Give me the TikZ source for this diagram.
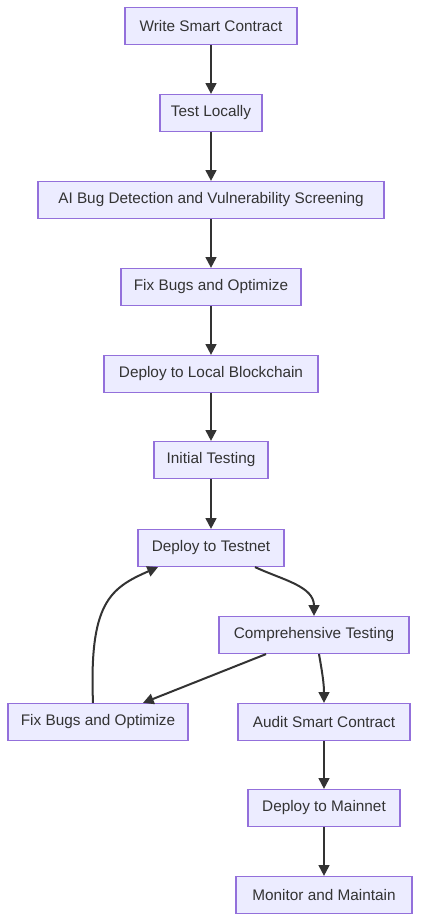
\documentclass[tikz,border=0pt]{standalone}
\usepackage{fontspec}
\setmainfont{Liberation Sans}
\usetikzlibrary{arrows.meta}

\definecolor{boxfill}{HTML}{ECECFF}
\definecolor{boxline}{HTML}{9370DB}
\definecolor{ink}{HTML}{333333}

\tikzset{
  box/.style={draw=boxline,fill=boxfill,line width=0.9pt,inner sep=0pt,
    minimum height=27.75pt,text=ink,font=\fontsize{11.5}{13}\selectfont},
  flow/.style={draw=ink,line width=1.5pt,-{Triangle[length=8pt,width=8pt]}}
}

\begin{document}
\begin{tikzpicture}[x=0.75pt,y=-0.75pt]

%fix page size
\useasboundingbox (0,0) rectangle (421,923);

%draw main column of steps
\node[box,minimum width=129pt]   (write)   at (211,26)  {Write Smart Contract};
\node[box,minimum width=76.5pt]  (testloc) at (211,113) {Test Locally};
\node[box,minimum width=259.5pt] (aibug)   at (211,200) {AI Bug Detection and Vulnerability Screening};
\node[box,minimum width=135pt]   (fixa)    at (211,287) {Fix Bugs and Optimize};
\node[box,minimum width=160.5pt] (deploc)  at (211,374) {Deploy to Local Blockchain};
\node[box,minimum width=85.5pt]  (inittst) at (211,460) {Initial Testing};
\node[box,minimum width=109.5pt] (testnet) at (211,548) {Deploy to Testnet};

%draw lower branch
\node[box,minimum width=142.5pt] (comptst) at (314,635) {Comprehensive Testing};
\node[box,minimum width=135pt]   (fixb)    at (98,722)  {Fix Bugs and Optimize};
\node[box,minimum width=129pt]   (audit)   at (324,722) {Audit Smart Contract};
\node[box,minimum width=114pt]   (mainnet) at (324,808) {Deploy to Mainnet};
\node[box,minimum width=132pt]   (monitor) at (324,895) {Monitor and Maintain};

%draw straight arrows
\foreach \a/\b in {write/testloc,testloc/aibug,aibug/fixa,fixa/deploc,deploc/inittst,inittst/testnet,audit/mainnet,mainnet/monitor}
	{
	\draw[flow] (\a) -- (\b);
	}

%draw curved arrows
\draw[flow] ([xshift=33pt]testnet.south) to[out=-25,in=90] (comptst.north);
\draw[flow] ([xshift=-36pt]comptst.south) -- ([xshift=33.75pt]fixb.north);
\draw[flow] ([xshift=3.75pt]comptst.south) to[out=-80,in=90] (audit.north);
\draw[flow] ([xshift=-3.75pt]fixb.north) .. controls +(-4,-100) and +(-48,21) .. ([xshift=-39.75pt]testnet.south);

\end{tikzpicture}
\end{document}
